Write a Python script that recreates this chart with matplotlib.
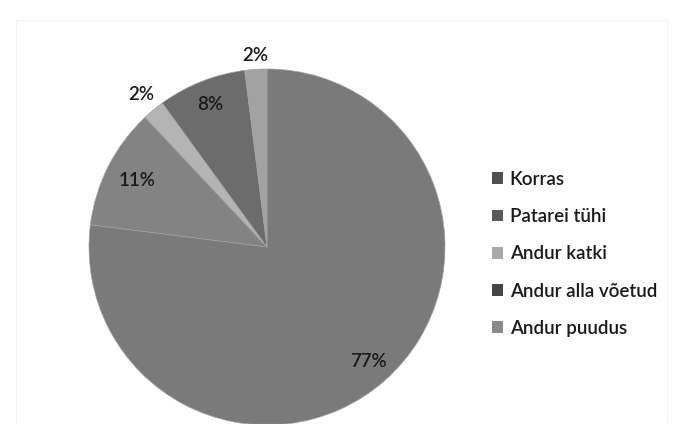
import matplotlib
matplotlib.use('Agg')
import matplotlib.pyplot as plt
from matplotlib.patches import Patch
import numpy as np

# --- DATA ---
labels = ['Korras', 'Patarei tühi', 'Andur katki', 'Andur alla võetud', 'Andur puudus']
shares = [77, 11, 2, 8, 2]
pct_text = ['77%', '11%', '2%', '8%', '2%']

# --- STYLE ---
pie_colors = ['#7a7a7a', '#838383', '#b4b4b4', '#6c6c6c', '#a2a2a2']
legend_colors = ['#505050', '#595959', '#a8a8a8', '#454545', '#8a8a8a']
label_radius = [0.86, 0.82, 1.11, 0.86, 1.08]

plt.rcParams['font.family'] = ['Lato', 'DejaVu Sans']

fig = plt.figure(figsize=(6.83, 4.24), dpi=100)
fig.patch.set_facecolor('white')

# faint chart-area border
fig.add_artist(plt.Rectangle((16 / 683, 0), 651 / 683, 1 - 20 / 424,
                             transform=fig.transFigure, fill=False,
                             edgecolor='#f4f4f4', linewidth=0.8))

ax = fig.add_axes([89 / 683, -1 / 424, 356 / 683, 356 / 424])
wedges, _ = ax.pie(shares, colors=pie_colors, startangle=90, counterclock=False,
                   radius=1.0, wedgeprops=dict(edgecolor='#a0a0a0', linewidth=0.5))
ax.set_xlim(-1, 1)
ax.set_ylim(-1, 1)
ax.set_aspect('equal')
ax.axis('off')

# percentage labels at the middle angle of each wedge
for w, txt, r in zip(wedges, pct_text, label_radius):
    mid = np.deg2rad((w.theta1 + w.theta2) / 2)
    ax.text(r * np.cos(mid), r * np.sin(mid), txt, ha='center', va='center',
            fontsize=13.5, fontweight='semibold', color='#1a1a1a', clip_on=False)

handles = [Patch(facecolor=c, edgecolor='none') for c in legend_colors]
fig.legend(handles, labels, loc='upper left', bbox_to_anchor=(475 / 683, 1 - 154 / 424),
           frameon=False, handlelength=0.6, handleheight=0.6,
           handletextpad=0.35, labelspacing=1.08,
           prop=dict(size=13.5, weight='semibold'), labelcolor='#1a1a1a')

fig.savefig('out.png', dpi=100)
